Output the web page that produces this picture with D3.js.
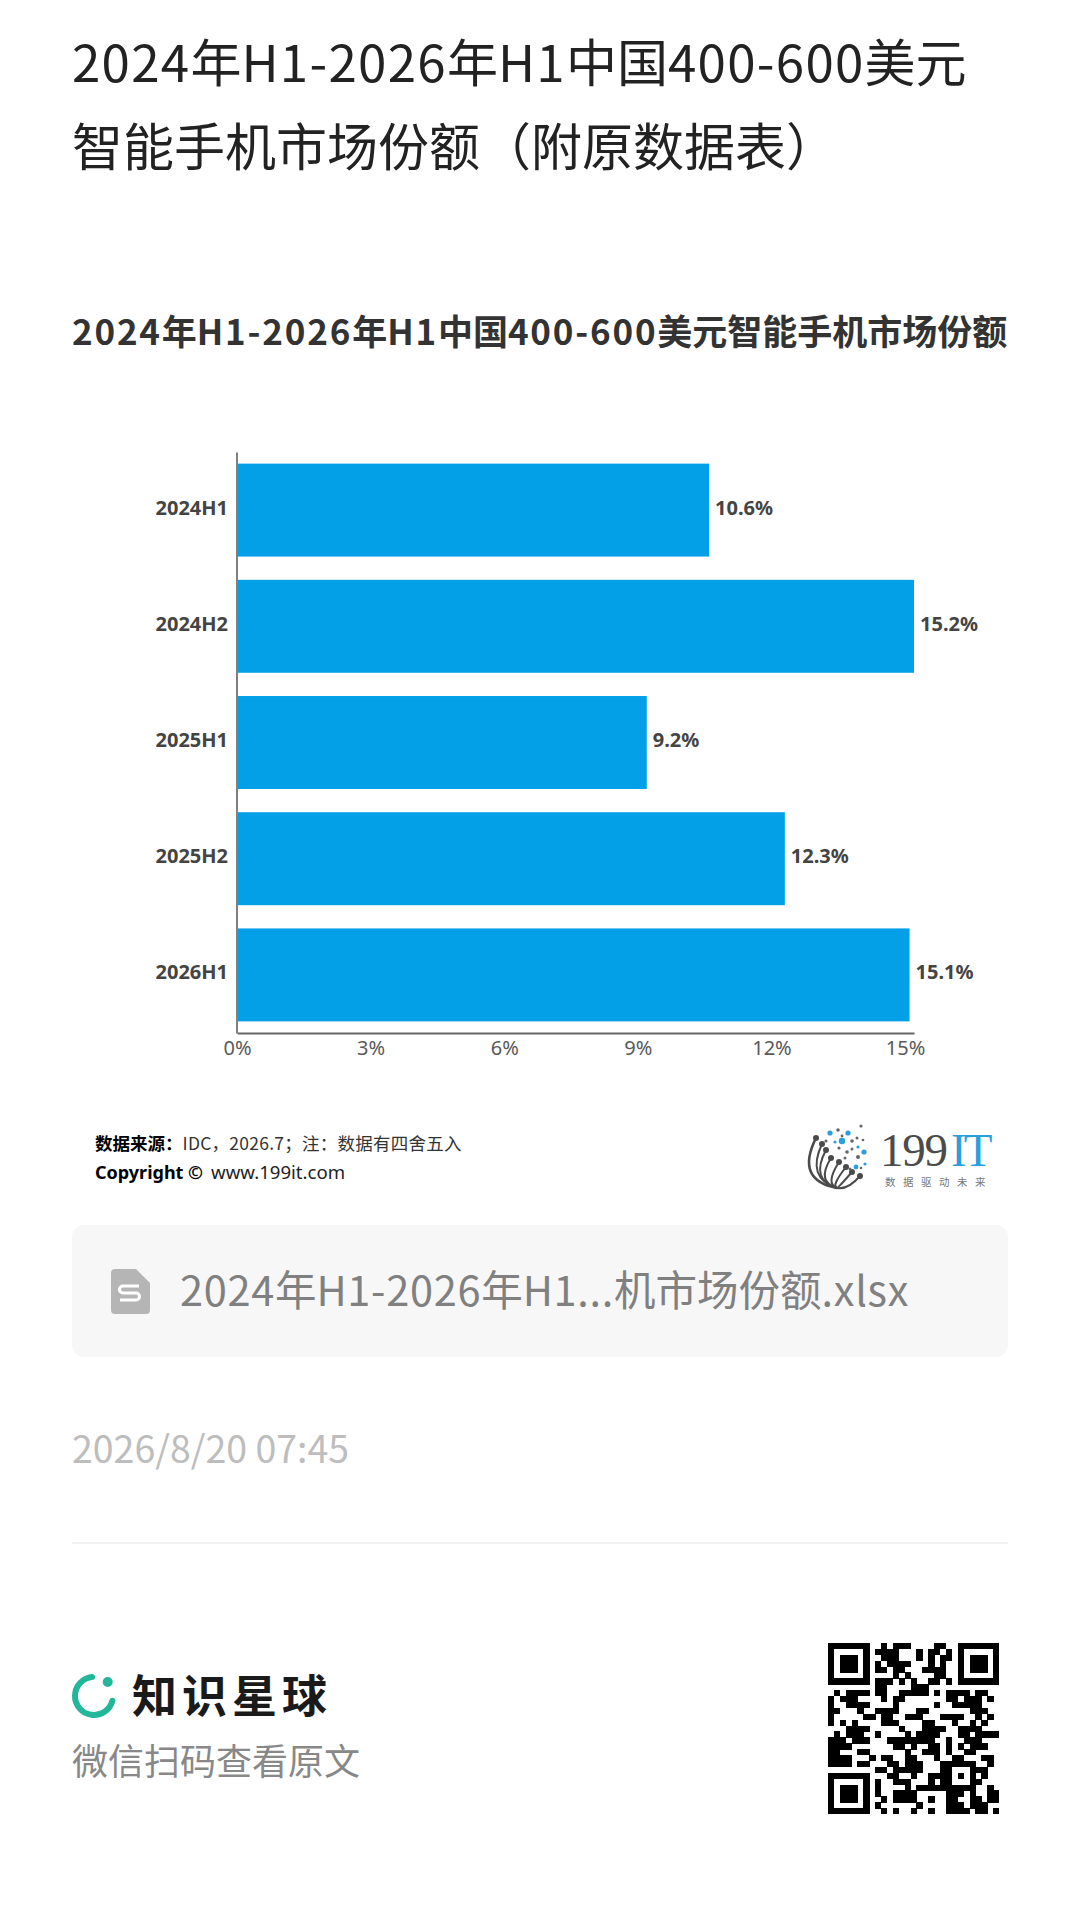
<!DOCTYPE html>
<html lang="zh-CN">
<head>
<meta charset="utf-8">
<title>2024年H1-2026年H1中国400-600美元智能手机市场份额</title>
<script src="https://cdn.jsdelivr.net/npm/d3@7/dist/d3.min.js"></script>
<style>
html,body{margin:0;padding:0;background:#fff;}
svg{display:block;}
text{font-family:"Noto Sans CJK SC","Noto Sans",sans-serif;}
</style>
</head>
<body>
<svg id="page" width="1080" height="1913" viewBox="0 0 1080 1913"></svg>
<script>
const categories = ["2024H1","2024H2","2025H1","2025H2","2026H1"];
const shareValues = [10.6,15.2,9.2,12.3,15.1];
const xTickValues = [0,3,6,9,12,15];
const titleLines = ["2024年H1-2026年H1中国400-600美元","智能手机市场份额（附原数据表）"];
const chartTitle = "2024年H1-2026年H1中国400-600美元智能手机市场份额";
const fileName = "2024年H1-2026年H1...机市场份额.xlsx";
const dateText = "2026/8/20 07:45";
const qrRows = [
"11111110010111000011001111111",
"10000010111100010110101000001",
"10111010011100010101101011101",
"10111010101111000101001011101",
"10111010110110001111001011101",
"10000010000101000011001000001",
"11111110111010100110101111111",
"00000000110000111000000000000",
"01011110110011111010111101100",
"10111000010110000000110111010",
"10011110000100000010011111000",
"11000100111100011000000011100",
"10000011011001110001111001010",
"10101000011100001100010010100",
"00011110000010001111001111000",
"01011100100001011110001101111",
"11101110001111111100100111000",
"11110000000110100110101011100",
"11000110000001001110100110000",
"11110001011001100010011000110",
"11110110001101110001111110010",
"00000000110111110001100011100",
"11111110001100100111101010100",
"10000010100111000101100011000",
"10111010100001011111111110010",
"10111010100111100000111010011",
"10111010010111100100110011011",
"10000010100000010000111011100",
"11111110010100100100111101101"
];
const sourceBold = "数据来源：";
const sourceRest = "IDC，2026.7；注：数据有四舍五入";

const svg = d3.select("#page");

// writes Latin runs with extra tracking, as the reference's Latin glyphs run wider
function tracked(sel, text, spacing){
  text.split(/([\x00-\x7F]+)/).filter(s=>s.length).forEach(s=>{
    const t = sel.append("tspan").text(s);
    if(/^[\x00-\x7F]+$/.test(s)) t.attr("letter-spacing",spacing);
  });
}

// Header
titleLines.forEach((line,i)=>{
  const t = svg.append("text").attr("x",72).attr("y",82+i*84)
    .attr("font-size",51).attr("fill","#222222");
  tracked(t,line,1.3);
});

const sub = svg.append("text").attr("x",72).attr("y",345)
  .attr("font-size",35).attr("font-weight",700).attr("fill","#333333");
tracked(sub,chartTitle,1.8);

// Chart
const x = d3.scaleLinear().domain([0,15.2]).range([237,914]);
const y = d3.scaleBand().domain(categories).range([452,1033]).paddingInner(0.2).paddingOuter(0.1);
const chart = svg.append("g");
const fmt = d => d+"%";

chart.selectAll("rect.bar").data(categories).join("rect")
  .attr("class","bar")
  .attr("x",x(0))
  .attr("y",d=>y(d))
  .attr("width",(d,i)=>x(shareValues[i])-x(0))
  .attr("height",y.bandwidth())
  .attr("fill","#03A0E8");

chart.selectAll("text.val").data(categories).join("text")
  .attr("class","val")
  .attr("x",(d,i)=>x(shareValues[i])+6)
  .attr("y",d=>y(d)+y.bandwidth()/2+4.5)
  .attr("font-size",20).attr("font-weight",700).attr("fill","#444444")
  .style("font-family",'"Noto Sans",sans-serif')
  .text((d,i)=>shareValues[i].toFixed(1)+"%");

const xAxis = chart.append("g").attr("transform","translate(0,1033)")
  .call(d3.axisBottom(x).tickValues(xTickValues).tickFormat(fmt).tickSize(0).tickPadding(8));
xAxis.select(".domain").attr("stroke","#666666").attr("stroke-width",2);
xAxis.selectAll("text").attr("font-size",20).attr("fill","#595959")
  .style("font-family",'"Noto Sans",sans-serif');

const yAxis = chart.append("g").attr("transform","translate(236.5,0)")
  .call(d3.axisLeft(y).tickSize(0).tickPadding(8.5));
yAxis.select(".domain").attr("stroke","#808080").attr("stroke-width",2);
yAxis.selectAll("text").attr("font-size",20).attr("font-weight",700).attr("fill","#444444")
  .attr("dy","0.22em")
  .style("font-family",'"Noto Sans",sans-serif');

// Source note
const src = svg.append("text").attr("x",95).attr("y",1149.5).attr("font-size",17.5).attr("fill","#333333");
src.append("tspan").attr("font-weight",700).attr("fill","#000000").text(sourceBold);
src.append("tspan").attr("letter-spacing",0.25).text(sourceRest);
const copy = svg.append("text").attr("x",95).attr("y",1179).attr("fill","#222222")
  .style("font-family",'"Noto Sans",sans-serif');
copy.append("tspan").attr("font-size",18).attr("font-weight",700).attr("fill","#000000").text("Copyright ©");
copy.append("tspan").attr("font-size",18.6).attr("dx",8).text("www.199it.com");

// 199IT logo
const logo = svg.append("g").attr("transform","translate(806,1122)");
const logoStemEnds = [[10,16],[16,22],[20,28],[25,36],[33,40],[40,45],[46,50],[54,54]];
const logoStemBends = [[-11,58],[0,56],[4,58],[10,60],[19,62],[25,64],[32,66],[42,68]];
logoStemEnds.forEach((e,i)=>{
  const b = logoStemBends[i];
  logo.append("path").attr("d",`M31,66 Q${b[0]},${b[1]} ${e[0]},${e[1]}`)
    .attr("fill","none").attr("stroke","#4a4a4a").attr("stroke-width",i===0?2.6:2);
  logo.append("circle").attr("cx",e[0]).attr("cy",e[1]).attr("r",3).attr("fill","#4a4a4a");
});
const logoBlue = "#2a9fdc", logoGrey = "#666666";
const logoDots = [[24,11,2.6,logoBlue],[42,11,2.6,logoBlue],[36,19,3.2,logoBlue],[58,30,2.6,logoBlue],[50,45,2.4,logoBlue],[59,42,1.6,logoBlue],[29,20,1.6,logoBlue],[52,25,1.6,logoBlue],
  [32,8,1.8,logoGrey],[55,4,1.6,logoGrey],[36,14,1.4,logoGrey],[51,16,1.5,logoGrey],[57,18,1.3,logoGrey],[46,19,1.8,logoGrey],[20,19,1.6,logoGrey],[33,26,1.6,logoGrey],[46,27,1.5,logoGrey],[41,30,1.8,logoGrey],[52,35,2,logoGrey],[39,36,1.5,logoGrey],[44,47,1.5,logoGrey],[55,46,1.3,logoGrey]];
logo.selectAll("circle.dot").data(logoDots).join("circle").attr("class","dot")
  .attr("cx",d=>d[0]).attr("cy",d=>d[1]).attr("r",d=>d[2]).attr("fill",d=>d[3]);
logo.append("text").attr("x",74).attr("y",44).attr("font-size",47).attr("letter-spacing",-1.2)
  .style("font-family",'"Liberation Serif",serif').attr("fill","#4b4b4b").text("199");
logo.append("text").attr("x",145).attr("y",44).attr("font-size",47).attr("letter-spacing",-3)
  .style("font-family",'"Liberation Serif",serif').attr("fill","#2a9fdc").text("IT");
logo.append("text").attr("x",79).attr("y",64).attr("font-size",10.5).attr("letter-spacing",7.5).attr("fill","#777777").text("数据驱动未来");

// File card
svg.append("rect").attr("x",72).attr("y",1225).attr("width",936).attr("height",132).attr("rx",12).attr("fill","#F7F7F7");
svg.append("path").attr("d","M115,1269 H136 L150,1283 V1310 A4,4 0 0 1 146,1314 H115 A4,4 0 0 1 111,1310 V1273 A4,4 0 0 1 115,1269 Z").attr("fill","#B5B5B5");
svg.append("path").attr("d","M139,1286 H123 A3.5,3.5 0 0 0 123,1293 H136 A3.5,3.5 0 0 1 136,1300 H120").attr("fill","none").attr("stroke","#fff").attr("stroke-width",3.2);
const fileText = svg.append("text").attr("x",180).attr("y",1306).attr("font-size",41.5).attr("fill","#808080");
tracked(fileText,fileName,0.7);

svg.append("text").attr("x",72).attr("y",1463).attr("font-size",37.5).attr("fill","#BDBDBD").text(dateText);
svg.append("line").attr("x1",72).attr("x2",1008).attr("y1",1543).attr("y2",1543).attr("stroke","#EEEEEE").attr("stroke-width",1.5);

// Footer
svg.append("path").attr("transform","translate(94,1696)")
  .attr("d",d3.arc().innerRadius(16).outerRadius(22).cornerRadius(3).startAngle(-Math.PI*1.47).endAngle(Math.PI*0.02)())
  .attr("fill","#22B798");
svg.append("circle").attr("cx",107.7).attr("cy",1682).attr("r",5).attr("fill","#22B798");
svg.append("text").attr("x",132).attr("y",1713).attr("font-size",45).attr("font-weight",700).attr("letter-spacing",5).attr("fill","#1A1A1A").text("知识星球");
svg.append("text").attr("x",72).attr("y",1775).attr("font-size",36).attr("fill","#888888").text("微信扫码查看原文");

// QR code
const qrIdx = d3.range(qrRows.length);
const qx = d3.scaleBand().domain(qrIdx).range([828,999]);
const qy = d3.scaleBand().domain(qrIdx).range([1643,1814]);
const qrCells = qrRows.flatMap((row,r)=>row.split("").map((c,k)=>({r,k,c})).filter(d=>d.c==="1"));
svg.append("g").attr("shape-rendering","crispEdges").selectAll("rect").data(qrCells).join("rect")
  .attr("x",d=>qx(d.k)).attr("y",d=>qy(d.r))
  .attr("width",qx.bandwidth()+0.4).attr("height",qy.bandwidth()+0.4).attr("fill","#000");
</script>
</body>
</html>
